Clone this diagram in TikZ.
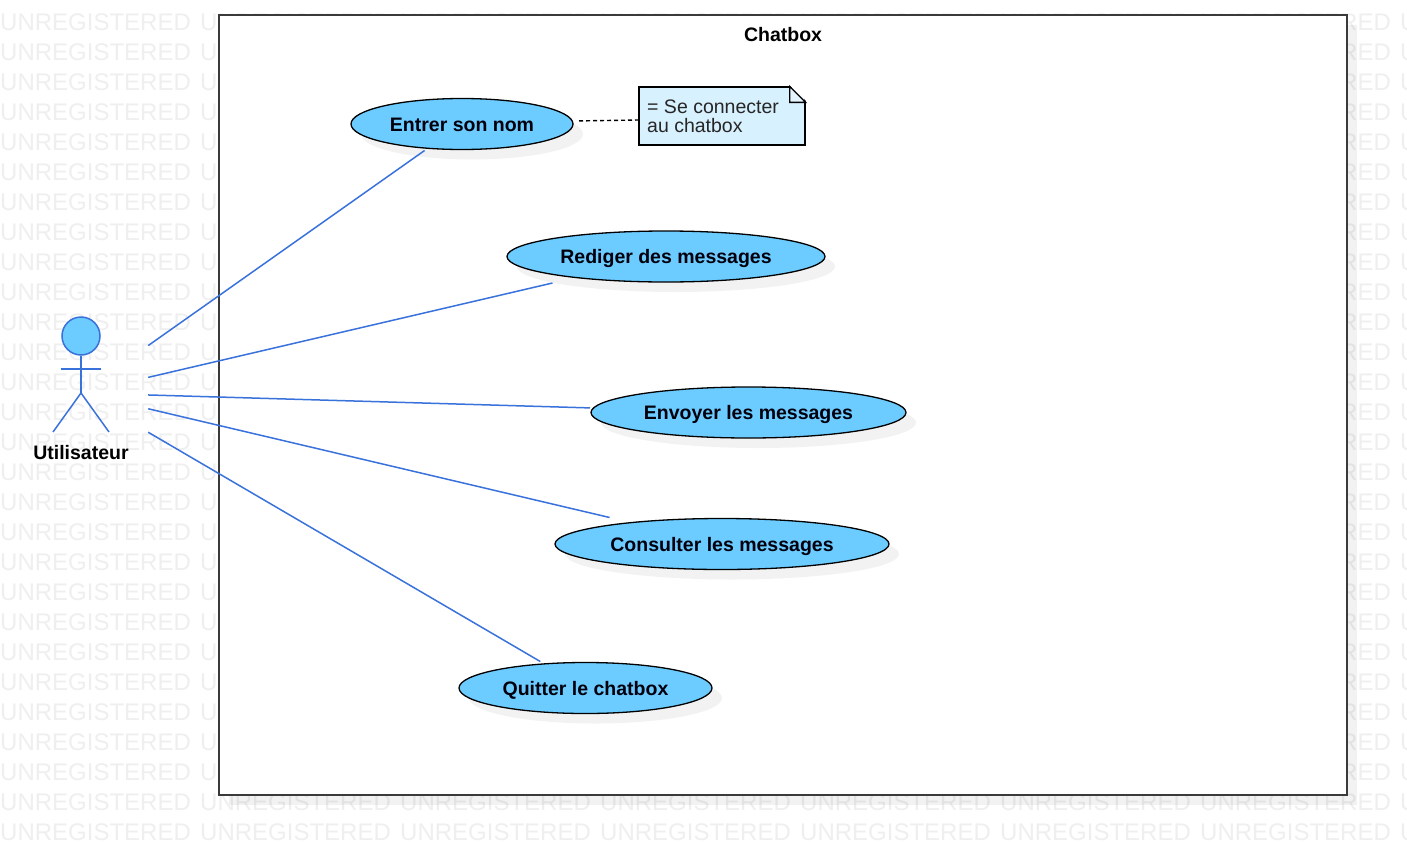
\documentclass[tikz,border=0pt]{standalone}
\usepackage{fontspec}
\setmainfont{Liberation Sans}
\usetikzlibrary{shapes.geometric,calc}
\definecolor{wmgray}{HTML}{EFEFEF}
\definecolor{ucfill}{HTML}{6CCBFF}
\definecolor{linkblue}{HTML}{3A72DC}
\definecolor{notefill}{HTML}{D8F1FF}
\definecolor{framegray}{HTML}{3A3A3A}
\tikzset{
  x=1bp,y=-1bp,
  wmtext/.style={anchor=base west,inner sep=0pt,text=wmgray,font=\fontsize{24bp}{24bp}\selectfont},
  usecase/.style={ellipse,draw=black,fill=ucfill,line width=1.3bp,inner sep=0pt,outer sep=0pt,
    text height=14.5bp,text depth=0.5bp,
    font=\bfseries\fontsize{19.5bp}{24bp}\selectfont,text=black!95!blue},
  ushadow/.style={ellipse,fill=black,fill opacity=0.05,inner sep=0pt},
  ubox/.style={rectangle,inner sep=0pt,outer sep=1bp},
  link/.style={draw=linkblue,line width=1.5bp},
  actorpart/.style={draw=linkblue,line width=1.5bp},
  boldlabel/.style={font=\bfseries\fontsize{19.5bp}{24bp}\selectfont,inner sep=0pt},
}
\newcommand{\usecasenode}[5]{%
  \node[ushadow,minimum width=#3bp,minimum height=#4bp] (#1s) at ($(#2)+(10,10)$) {};
  \node[usecase,minimum width=#3bp,minimum height=#4bp] (#1) at (#2) {#5};
  \node[ubox,minimum width=#3bp,minimum height=#4bp] (#1box) at (#2) {};
}
\begin{document}
\begin{tikzpicture}
\useasboundingbox (0,0) rectangle (1407,855);
\clip (0,0) rectangle (1407,855);
\fill[white] (0,0) rectangle (1407,855);
% watermark
\foreach \r in {0,...,27}{
  \foreach \c in {0,...,7}{
    \node[wmtext,name=wm\r-\c] at ({\c*200},{30+\r*30}) {UNREGISTERED};
  }
}
% frame
\node[fill=black,fill opacity=0.05,minimum width=1128bp,minimum height=780bp,inner sep=0pt] (frameshadow) at (793,415) {};
\node[draw=framegray,fill=white,line width=2bp,minimum width=1128bp,minimum height=780bp,inner sep=0pt] (frame) at (783,405) {};
\node[boldlabel] (title) at (783,34.5) {Chatbox};
% use cases
\usecasenode{entrer}{462,124}{222}{51}{Entrer son nom}
\usecasenode{rediger}{666,256.5}{318}{51}{Rediger des messages}
\usecasenode{envoyer}{748.5,412.5}{315}{51}{Envoyer les messages}
\usecasenode{consulter}{722,544}{334}{51}{Consulter les messages}
\usecasenode{quitter}{585.5,688}{253}{51}{Quitter le chatbox}
% note
\node[draw=black,fill=notefill,line width=1.3bp,minimum width=166bp,minimum height=58bp,inner sep=0pt] (note) at (722,116) {};
\node[anchor=north west,inner sep=0pt,align=left,text=black!85,font=\fontsize{19.5bp}{19bp}\selectfont] (notetext) at (647,100) {= Se connecter\\au chatbox};
\fill[white] ([xshift=-16bp,yshift=1bp]note.north east) -- ([xshift=2bp,yshift=1bp]note.north east) -- ([yshift=-16bp,xshift=2bp]note.north east) -- cycle;
\draw[line width=1.3bp,fill=notefill!70!white] ([xshift=-16bp]note.north east) -- ([yshift=-16bp]note.north east) -- ([xshift=-16bp,yshift=-16bp]note.north east) -- cycle;
\draw[line width=1.4bp,dash pattern=on 4bp off 3bp,shorten <=5bp] ([yshift=3bp]entrerbox.east) -- ([yshift=-4bp]note.west);
% actor
\node[inner sep=0pt,minimum width=134bp,minimum height=130bp] (actor) at (81,393) {};
\node[circle,draw=linkblue,fill=ucfill,line width=1.5bp,minimum size=38bp,inner sep=0pt] (head) at (81,336) {};
\coordinate (hip) at (81,393);
\draw[actorpart] (head.south) -- (hip);
\coordinate (armL) at (61,369);
\coordinate (armR) at (101,369);
\coordinate (legL) at (53,432);
\coordinate (legR) at (109,432);
\draw[actorpart] (armL) -- (armR);
\draw[actorpart] (legL) -- (hip) -- (legR);
\node[boldlabel] (actorlabel) at (81,452.5) {Utilisateur};
% connectors
\foreach \t in {entrer,rediger,envoyer,consulter,quitter}{
  \draw[link] (actor) -- (\t box);
}
\end{tikzpicture}
\end{document}
